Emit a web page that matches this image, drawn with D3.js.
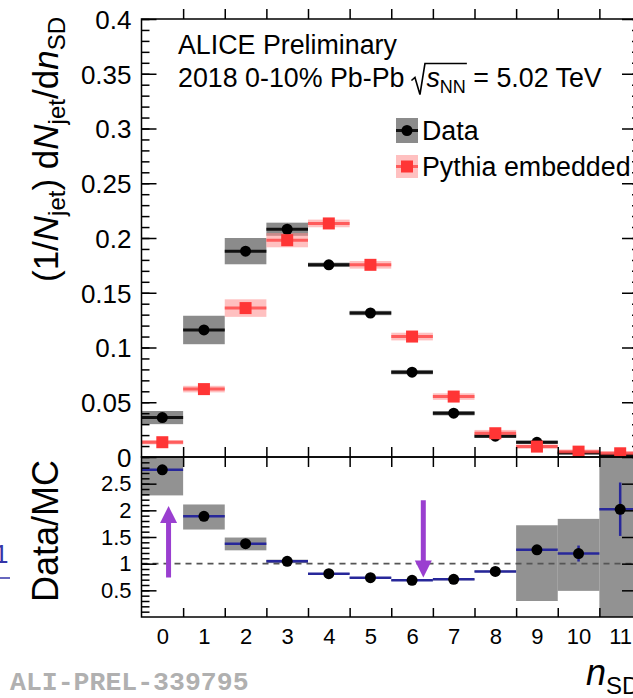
<!DOCTYPE html>
<html>
<head>
<meta charset="utf-8">
<script src="https://cdn.jsdelivr.net/npm/d3@7"></script>
<style>
  html, body { margin: 0; padding: 0; background: #fff; }
  svg { display: block; font-family: "Liberation Sans", Arial, Helvetica, sans-serif; }
</style>
</head>
<body>
<svg id="chart" width="633" height="698"></svg>
<script>
// n_SD bins (soft-drop splittings)
const bins = [0, 1, 2, 3, 4, 5, 6, 7, 8, 9, 10, 11];

// (1/N_jet) dN_jet/dn_SD : measured data, with systematic half-width
const dataVal = [0.036, 0.116, 0.188, 0.208, 0.1755, 0.1315, 0.0775, 0.040, 0.0190, 0.0134, 0.0036, 0.0015];
const dataSys = [0.006, 0.013, 0.012, 0.006, 0.002, 0.002, 0.002, 0.002, 0.0015, 0.0015, 0.001, 0.001];

// Pythia embedded reference, with systematic half-width
const mcVal = [0.0135, 0.062, 0.136, 0.198, 0.2133, 0.1755, 0.110, 0.0552, 0.0217, 0.0095, 0.0049, 0.0034];
const mcSys = [0.002, 0.003, 0.008, 0.0065, 0.0035, 0.0035, 0.0035, 0.003, 0.003, 0.002, 0.002, 0.002];

// Data / MC ratio, statistical error and systematic band (low, high)
const ratioVal  = [2.76, 1.887, 1.375, 1.043, 0.8125, 0.737, 0.687, 0.706, 0.855, 1.26, 1.19, 2.02];
const ratioStat = [0.03, 0.02, 0.01, 0.01, 0.01, 0.01, 0.01, 0.02, 0.03, 0.06, 0.15, 0.5];
const ratioLo   = [2.28, 1.64, 1.25, 1.01, 0.80, 0.725, 0.675, 0.69, 0.84, 0.30, 0.49, 0.0];
const ratioHi   = [3.24, 2.11, 1.49, 1.075, 0.825, 0.75, 0.70, 0.72, 0.87, 1.72, 1.84, 3.5];

// Highlight arrows in the ratio panel: position in n_SD, tail and tip in ratio units
const arrowX    = [0.15, 6.27];
const arrowFrom = [0.74, 2.19];
const arrowTo   = [2.08, 0.74];

// Axis ticks
const topMajor = [0, 0.05, 0.1, 0.15, 0.2, 0.25, 0.3, 0.35, 0.4];
const topLabels = ["0", "0.05", "0.1", "0.15", "0.2", "0.25", "0.3", "0.35", "0.4"];
const ratioMajor = [0.5, 1, 1.5, 2, 2.5];
const ratioLabels = ["0.5", "1", "1.5", "2", "2.5"];
const binEdges = [0.5, 1.5, 2.5, 3.5, 4.5, 5.5, 6.5, 7.5, 8.5, 9.5, 10.5];

const svg = d3.select("#chart");
const L = 141.5, R = 641, T = 19, MID = 457, B = 617;

const x = d3.scaleLinear().domain([-0.5, 11.5]).range([L, R]);
const yTop = d3.scaleLinear().domain([0, 0.4]).range([MID, T]);
const yRat = d3.scaleLinear().domain([0, 3]).range([B, MID]);

const defs = svg.append("defs");
defs.append("clipPath").attr("id", "clipTop")
  .append("rect").attr("x", L).attr("y", T).attr("width", R - L).attr("height", MID - T);
defs.append("clipPath").attr("id", "clipRat")
  .append("rect").attr("x", L).attr("y", MID).attr("width", R - L).attr("height", B - MID);

// ---------- top panel ----------
const gTop = svg.append("g").attr("clip-path", "url(#clipTop)");

// data systematics (grey boxes)
gTop.selectAll("rect.dsys").data(bins).join("rect")
  .attr("x", d => x(d - 0.5)).attr("width", d => x(d + 0.5) - x(d - 0.5))
  .attr("y", (d, i) => yTop(dataVal[i] + dataSys[i]))
  .attr("height", (d, i) => yTop(dataVal[i] - dataSys[i]) - yTop(dataVal[i] + dataSys[i]))
  .attr("fill", "#777").attr("fill-opacity", 0.85);

// MC systematics (pink boxes)
gTop.selectAll("rect.msys").data(bins).join("rect")
  .attr("x", d => x(d - 0.5)).attr("width", d => x(d + 0.5) - x(d - 0.5))
  .attr("y", (d, i) => yTop(mcVal[i] + mcSys[i]))
  .attr("height", (d, i) => yTop(mcVal[i] - mcSys[i]) - yTop(mcVal[i] + mcSys[i]))
  .attr("fill", "#ff8c8c").attr("fill-opacity", 0.55);

// data bin-width bars and markers
gTop.selectAll("line.dbar").data(bins).join("line")
  .attr("x1", d => x(d - 0.5)).attr("x2", d => x(d + 0.5))
  .attr("y1", (d, i) => yTop(dataVal[i])).attr("y2", (d, i) => yTop(dataVal[i]))
  .attr("stroke", "#111").attr("stroke-width", 3);
gTop.selectAll("circle.dpt").data(bins).join("circle")
  .attr("cx", d => x(d)).attr("cy", (d, i) => yTop(dataVal[i])).attr("r", 5.5)
  .attr("fill", "#000");

// MC bin-width bars and markers
gTop.selectAll("line.mbar").data(bins).join("line")
  .attr("x1", d => x(d - 0.5)).attr("x2", d => x(d + 0.5))
  .attr("y1", (d, i) => yTop(mcVal[i])).attr("y2", (d, i) => yTop(mcVal[i]))
  .attr("stroke", "#ff4a4a").attr("stroke-opacity", 0.85).attr("stroke-width", 3);
gTop.selectAll("rect.mpt").data(bins).join("rect")
  .attr("x", d => x(d) - 6).attr("y", (d, i) => yTop(mcVal[i]) - 6)
  .attr("width", 12).attr("height", 12)
  .attr("fill", "#ff3535");

// ---------- ratio panel ----------
const gRat = svg.append("g").attr("clip-path", "url(#clipRat)");

gRat.selectAll("rect.rsys").data(bins).join("rect")
  .attr("x", d => x(d - 0.5)).attr("width", d => x(d + 0.5) - x(d - 0.5))
  .attr("y", (d, i) => yRat(ratioHi[i]))
  .attr("height", (d, i) => yRat(ratioLo[i]) - yRat(ratioHi[i]))
  .attr("fill", "#7f7f7f").attr("fill-opacity", 0.85);

// reference line at unity
gRat.append("line")
  .attr("x1", L).attr("x2", R).attr("y1", yRat(1)).attr("y2", yRat(1))
  .attr("stroke", "#555").attr("stroke-width", 1.6).attr("stroke-dasharray", "6,5");

gRat.selectAll("line.rbar").data(bins).join("line")
  .attr("x1", d => x(d - 0.5)).attr("x2", d => x(d + 0.5))
  .attr("y1", (d, i) => yRat(ratioVal[i])).attr("y2", (d, i) => yRat(ratioVal[i]))
  .attr("stroke", "#27279a").attr("stroke-width", 2.5);
gRat.selectAll("line.rstat").data(bins).join("line")
  .attr("x1", d => x(d)).attr("x2", d => x(d))
  .attr("y1", (d, i) => yRat(ratioVal[i] + ratioStat[i]))
  .attr("y2", (d, i) => yRat(ratioVal[i] - ratioStat[i]))
  .attr("stroke", "#27279a").attr("stroke-width", 2.5);
gRat.selectAll("circle.rpt").data(bins).join("circle")
  .attr("cx", d => x(d)).attr("cy", (d, i) => yRat(ratioVal[i])).attr("r", 5.5)
  .attr("fill", "#000");

// highlight arrows
const arrowColor = "#9a3fd0";
arrowX.forEach((ax, i) => {
  const px = x(ax), y0 = yRat(arrowFrom[i]), y1 = yRat(arrowTo[i]);
  const dir = y1 < y0 ? -1 : 1;  // -1 : pointing up
  const head = 17, hw = 8.5;
  gRat.append("line")
    .attr("x1", px).attr("x2", px).attr("y1", y0).attr("y2", y1 - dir * head + dir * 1)
    .attr("stroke", arrowColor).attr("stroke-width", 5);
  gRat.append("path")
    .attr("d", `M${px - hw},${y1 - dir * head} L${px + hw},${y1 - dir * head} L${px},${y1} Z`)
    .attr("fill", arrowColor);
});

// ---------- axes ----------
const fontTick = 26, fontTickR = 22;

function styleAxis(g, size) {
  g.select(".domain").remove();
  g.selectAll("line").attr("stroke", "#000").attr("stroke-width", 1.5);
  g.selectAll("text").attr("font-size", size).attr("fill", "#000")
    .attr("font-family", "'Liberation Sans', Arial, Helvetica, sans-serif");
}

// top panel: left axis
svg.append("g").attr("transform", `translate(${L},0)`)
  .call(d3.axisLeft(yTop).tickValues(d3.range(0, 0.4001, 0.01)).tickSize(-8).tickFormat(""))
  .call(g => styleAxis(g, fontTick));
svg.append("g").attr("transform", `translate(${L},0)`)
  .call(d3.axisLeft(yTop).tickValues(topMajor).tickSize(-15).tickPadding(10)
    .tickFormat((d, i) => topLabels[i]))
  .call(g => styleAxis(g, fontTick))
  .call(g => g.selectAll("text").attr("dy", "0.36em"));
// top panel: right axis
svg.append("g").attr("transform", `translate(${R},0)`)
  .call(d3.axisLeft(yTop).tickValues(d3.range(0, 0.4001, 0.01)).tickSize(9).tickFormat(""))
  .call(g => styleAxis(g, fontTick));
svg.append("g").attr("transform", `translate(${R},0)`)
  .call(d3.axisLeft(yTop).tickValues(topMajor).tickSize(19).tickFormat(""))
  .call(g => styleAxis(g, fontTick));

// ratio panel: left and right axes
svg.append("g").attr("transform", `translate(${L},0)`)
  .call(d3.axisLeft(yRat).tickValues(d3.range(0.1, 2.95, 0.1)).tickSize(-8).tickFormat(""))
  .call(g => styleAxis(g, fontTickR));
svg.append("g").attr("transform", `translate(${L},0)`)
  .call(d3.axisLeft(yRat).tickValues(ratioMajor).tickSize(-15).tickPadding(10)
    .tickFormat((d, i) => ratioLabels[i]))
  .call(g => styleAxis(g, fontTickR));
svg.append("g").attr("transform", `translate(${R},0)`)
  .call(d3.axisLeft(yRat).tickValues(ratioMajor).tickSize(19).tickFormat(""))
  .call(g => styleAxis(g, fontTickR));

// x ticks at bin edges: top frame, panel divider (both sides) and bottom frame
svg.append("g").attr("transform", `translate(0,${T})`)
  .call(d3.axisBottom(x).tickValues(binEdges).tickSize(-10).tickFormat(""))
  .call(g => styleAxis(g, fontTickR));
svg.append("g").attr("transform", `translate(0,${MID})`)
  .call(d3.axisBottom(x).tickValues(binEdges).tickSize(10).tickFormat(""))
  .call(g => styleAxis(g, fontTickR));
svg.append("g").attr("transform", `translate(0,${MID})`)
  .call(d3.axisTop(x).tickValues(binEdges).tickSize(10).tickFormat(""))
  .call(g => styleAxis(g, fontTickR));
svg.append("g").attr("transform", `translate(0,${B})`)
  .call(d3.axisBottom(x).tickValues(binEdges).tickSize(-9).tickFormat(""))
  .call(g => styleAxis(g, fontTickR));
// bin labels
svg.append("g").attr("transform", `translate(0,${B})`)
  .call(d3.axisBottom(x).tickValues(bins).tickSize(0).tickPadding(11).tickFormat(d3.format("d")))
  .call(g => styleAxis(g, fontTickR));

// frames
svg.append("rect").attr("x", L).attr("y", T).attr("width", R - L).attr("height", MID - T)
  .attr("fill", "none").attr("stroke", "#000").attr("stroke-width", 1.5);
svg.append("rect").attr("x", L).attr("y", MID).attr("width", R - L).attr("height", B - MID)
  .attr("fill", "none").attr("stroke", "#000").attr("stroke-width", 1.5);

// ---------- titles ----------
const yTitle = svg.append("text")
  .attr("transform", "translate(58,17) rotate(-90)")
  .attr("text-anchor", "end").attr("font-size", 35).attr("fill", "#000");
yTitle.append("tspan").text("(1/");
yTitle.append("tspan").attr("font-style", "italic").text("N");
yTitle.append("tspan").attr("font-size", 24).attr("dy", 7).text("jet");
yTitle.append("tspan").attr("dy", -7).text(") d");
yTitle.append("tspan").attr("font-style", "italic").text("N");
yTitle.append("tspan").attr("font-size", 24).attr("dy", 7).text("jet");
yTitle.append("tspan").attr("dy", -7).text("/d");
yTitle.append("tspan").attr("font-style", "italic").text("n");
yTitle.append("tspan").attr("font-size", 24).attr("dy", 7).text("SD");

svg.append("text")
  .attr("transform", "translate(58,460) rotate(-90)")
  .attr("text-anchor", "end").attr("font-size", 36).attr("fill", "#000")
  .text("Data/MC");

const xTitle = svg.append("text").attr("x", 586).attr("y", 685)
  .attr("font-size", 36).attr("fill", "#000");
xTitle.append("tspan").attr("font-style", "italic").text("n");
xTitle.append("tspan").attr("font-size", 24).attr("dy", 9).text("SD");

// ---------- header and legend ----------
const hdrSize = 26.8;
svg.append("text").attr("x", 178).attr("y", 53.5).attr("font-size", hdrSize).attr("fill", "#000")
  .text("ALICE Preliminary");

const by = 86.5;
const sub = svg.append("text").attr("x", 178).attr("y", by).attr("font-size", hdrSize).attr("fill", "#000");
sub.append("tspan").text("2018 0-10% Pb-Pb");
sub.append("tspan").attr("dx", 22).attr("font-style", "italic").text("s");
sub.append("tspan").attr("font-size", 18).attr("dy", 6).text("NN");
sub.append("tspan").attr("dy", -6).text(" = 5.02 TeV");
// radical sign over s_NN
{
  const node = sub.node();
  const sIdx = "2018 0-10% Pb-Pb".length;
  const sx = node.getStartPositionOfChar(sIdx).x;
  const endX = node.getEndPositionOfChar(sIdx + 2).x;
  svg.append("path")
    .attr("d", `M${sx - 15},${by - 6} L${sx - 11.5},${by - 9} L${sx - 6.5},${by + 8} L${sx - 1.5},${by - 23} L${endX + 1},${by - 23}`)
    .attr("fill", "none").attr("stroke", "#000").attr("stroke-width", 1.6);
}

// legend
const lgX0 = 396, lgX1 = 418;
svg.append("rect").attr("x", lgX0).attr("y", 118).attr("width", lgX1 - lgX0).attr("height", 25)
  .attr("fill", "#777").attr("fill-opacity", 0.85);
svg.append("line").attr("x1", lgX0).attr("x2", lgX1).attr("y1", 130.5).attr("y2", 130.5)
  .attr("stroke", "#111").attr("stroke-width", 3);
svg.append("circle").attr("cx", 407).attr("cy", 130.5).attr("r", 5.5).attr("fill", "#000");
svg.append("text").attr("x", 422).attr("y", 139.5).attr("font-size", hdrSize).attr("fill", "#000").text("Data");

svg.append("rect").attr("x", lgX0).attr("y", 155).attr("width", lgX1 - lgX0).attr("height", 23)
  .attr("fill", "#ff8c8c").attr("fill-opacity", 0.55);
svg.append("line").attr("x1", lgX0).attr("x2", lgX1).attr("y1", 166.5).attr("y2", 166.5)
  .attr("stroke", "#ff4a4a").attr("stroke-opacity", 0.85).attr("stroke-width", 3);
svg.append("rect").attr("x", 401).attr("y", 160.5).attr("width", 12).attr("height", 12).attr("fill", "#ff3535");
svg.append("text").attr("x", 422).attr("y", 175.5).attr("font-size", hdrSize).attr("fill", "#000").text("Pythia embedded");

// figure id
svg.append("text").attr("x", 10).attr("y", 690)
  .attr("font-family", "'Liberation Mono', 'DejaVu Sans Mono', monospace")
  .attr("font-weight", "bold").attr("font-size", 26.5).attr("fill", "#b0b0b0")
  .text("ALI-PREL-339795");

// link fragment at the left margin
svg.append("text").attr("x", -6).attr("y", 563).attr("font-size", 26).attr("fill", "#3535a8").text("1");
svg.append("line").attr("x1", 0).attr("x2", 10).attr("y1", 578).attr("y2", 578)
  .attr("stroke", "#3535a8").attr("stroke-width", 1.5);
</script>
</body>
</html>
